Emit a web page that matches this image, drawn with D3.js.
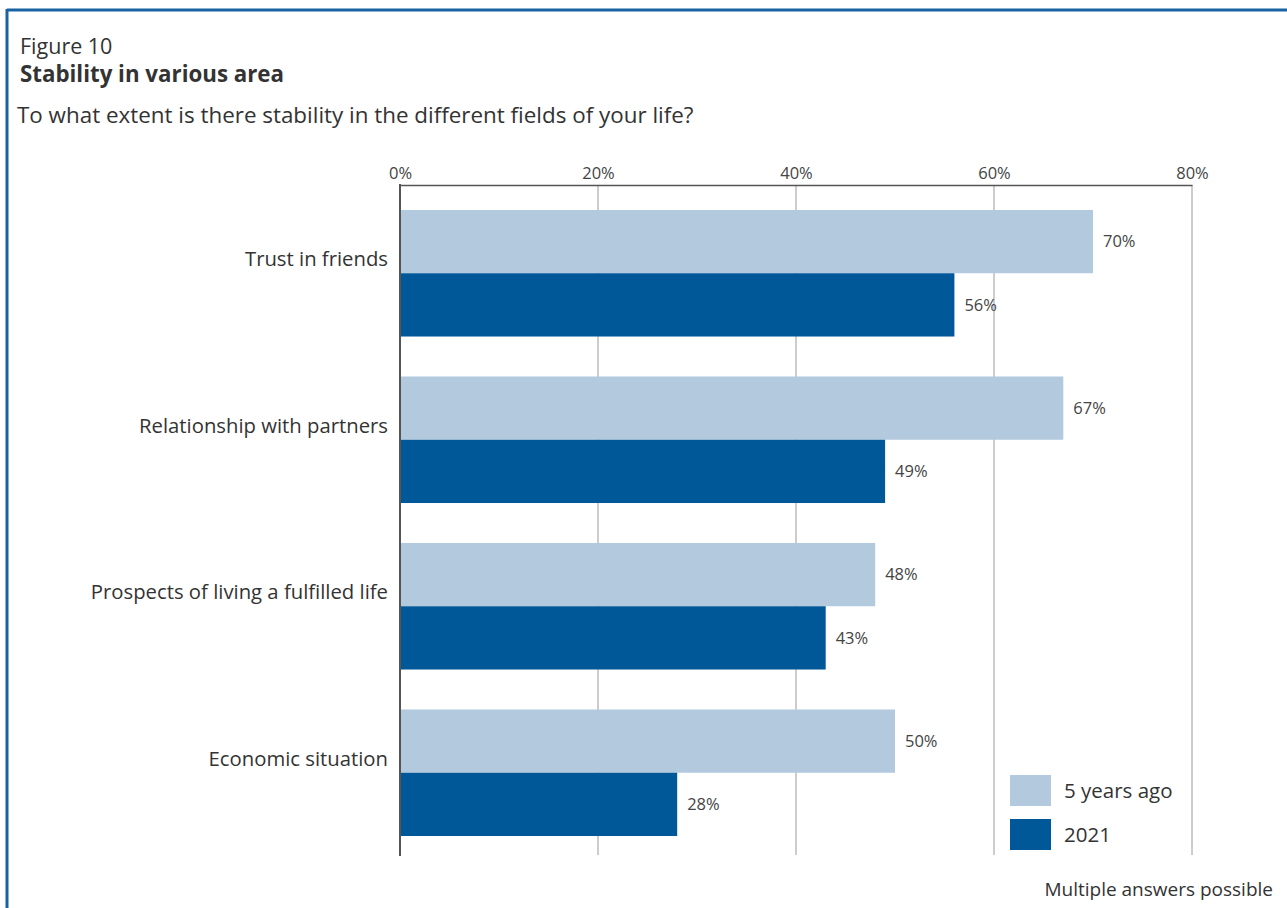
<!DOCTYPE html>
<html><head><meta charset="utf-8">
<script src="https://cdn.jsdelivr.net/npm/d3@7"></script>
<style>body{margin:0;background:#fff;} text{font-family:"Open Sans",sans-serif;}</style>
</head><body>
<svg id="c" width="1287" height="908"></svg>
<script>
const categories = ["Trust in friends","Relationship with partners","Prospects of living a fulfilled life","Economic situation"];
const seriesNames = ["5 years ago","2021"];
const fiveYearsAgo = [70,67,48,50];
const y2021 = [56,49,43,28];
const ticks = [0,20,40,60,80];
const colors = ["#b3cade","#005899"];

const svg = d3.select("#c");
// frame
svg.append("line").attr("x1",7).attr("x2",1287).attr("y1",10).attr("y2",10).attr("stroke","#1a63a3").attr("stroke-width",3);
svg.append("line").attr("x1",7).attr("x2",7).attr("y1",9).attr("y2",908).attr("stroke","#1a63a3").attr("stroke-width",3);

svg.append("text").attr("x",20).attr("y",54).attr("font-size",21.5).attr("fill","#333").text("Figure 10");
svg.append("text").attr("x",20).attr("y",82).attr("font-size",22.3).attr("font-weight","bold").attr("fill","#333").text("Stability in various area");
svg.append("text").attr("x",17).attr("y",123).attr("font-size",22.4).attr("fill","#333").text("To what extent is there stability in the different fields of your life?");

const x = d3.scaleLinear().domain([0,80]).range([400,1192]);
const y = d3.scaleBand().domain(categories).range([190,856]).paddingInner(0.24).paddingOuter(0.12);
const ySub = d3.scaleBand().domain(seriesNames).range([0,y.bandwidth()]);

// gridlines
svg.append("g").selectAll("line").data(ticks.filter(t=>t>0)).join("line")
  .attr("x1",d=>x(d)).attr("x2",d=>x(d)).attr("y1",185).attr("y2",855)
  .attr("stroke","#9a9a9a").attr("stroke-width",1);

// top axis
const ax = svg.append("g").attr("transform","translate(0,185)")
  .call(d3.axisTop(x).tickValues(ticks).tickSize(0).tickPadding(6).tickFormat(d=>d+"%"));
ax.select(".domain").attr("stroke","#555").attr("stroke-width",1.5);
ax.selectAll("text").attr("font-size",16.5).attr("fill","#444").attr("font-family","Open Sans, sans-serif");

const data = categories.map((c,i)=>({c, vals:[fiveYearsAgo[i], y2021[i]]}));
const g = svg.append("g").selectAll("g").data(data).join("g").attr("transform",d=>`translate(0,${y(d.c)})`);
g.selectAll("rect").data(d=>d.vals.map((v,j)=>({v,s:seriesNames[j],j}))).join("rect")
  .attr("x",x(0)).attr("y",d=>ySub(d.s)).attr("width",d=>x(d.v)-x(0)).attr("height",ySub.bandwidth())
  .attr("fill",d=>colors[d.j]);
g.selectAll("text.val").data(d=>d.vals.map((v,j)=>({v,s:seriesNames[j]}))).join("text").attr("class","val")
  .attr("x",d=>x(d.v)+10).attr("y",d=>ySub(d.s)+ySub.bandwidth()/2).attr("dy","0.35em")
  .attr("font-size",16.5).attr("fill","#444").text(d=>d.v+"%");

// category labels
svg.append("g").selectAll("text").data(categories).join("text")
  .attr("x",388).attr("y",d=>y(d)+ySub.bandwidth()-14).attr("dy","0.35em").attr("text-anchor","end")
  .attr("font-size",20.3).attr("fill","#333").text(d=>d);

// left axis line
svg.append("line").attr("x1",400).attr("x2",400).attr("y1",184).attr("y2",856).attr("stroke","#555").attr("stroke-width",2);

// legend
const lg = svg.append("g").selectAll("g").data(seriesNames).join("g").attr("transform",(d,i)=>`translate(1010,${775+i*44})`);
lg.append("rect").attr("width",41).attr("height",31).attr("fill",(d,i)=>colors[i]);
lg.append("text").attr("x",54).attr("y",16).attr("dy","0.35em").attr("font-size",20.5).attr("fill","#333").text(d=>d);

svg.append("text").attr("x",1273).attr("y",896).attr("text-anchor","end").attr("font-size",19).attr("fill","#333").text("Multiple answers possible");
</script>
</body></html>
